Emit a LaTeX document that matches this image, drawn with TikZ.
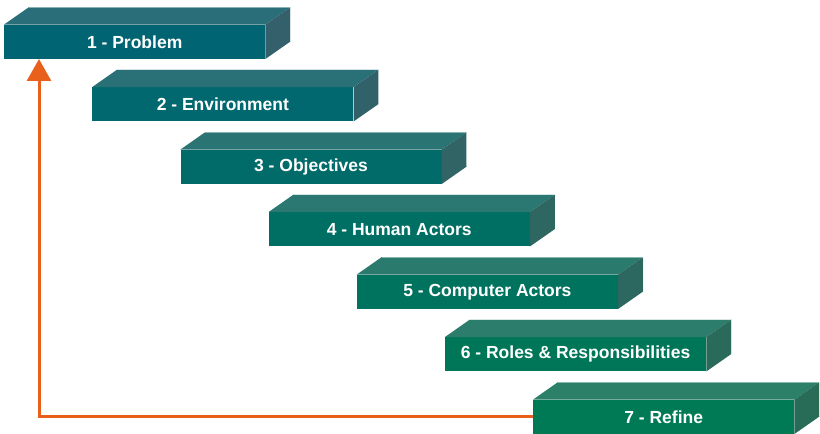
\documentclass[tikz,border=0pt]{standalone}
\usepackage{fontspec}
\setmainfont{Liberation Sans}
\usetikzlibrary{arrows.meta}
\usetikzlibrary{positioning}
\usetikzlibrary{calc}

% Face colours of the first and the last step
\definecolor{frontA}{RGB}{0,100,115}
\definecolor{topA}{RGB}{42,110,122}
\definecolor{sideA}{RGB}{52,96,108}
\definecolor{frontB}{RGB}{0,122,84}
\definecolor{topB}{RGB}{44,128,104}
\definecolor{sideB}{RGB}{40,108,88}
\definecolor{loopback}{RGB}{232,96,28}

\begin{document}
\begin{tikzpicture}[x=1pt, y=1pt,
    stepface/.style={rectangle, anchor=south west, inner sep=0pt,
      minimum width=261pt, minimum height=34pt, text=white,
      font=\bfseries\fontsize{17.5}{20}\selectfont},
    feedback/.style={draw=loopback, line width=3pt,
      -{Triangle[length=22pt, width=24pt]}}]

        \useasboundingbox (0,0) rectangle (820,434);

        % Horizontal and vertical distance between steps
        \def\hstep{88.17}
        \def\vstep{62.5}

        % Depth of the boxes
        \def\dx{25}
        \def\dy{17.5}

        % Draw the staircase, top step first
        \foreach \label [count=\n] in {Problem, Environment, Objectives,
            Human Actors, Computer Actors, Roles \& Responsibilities, Refine} {
          \pgfmathtruncatemacro{\mix}{round(100*(\n-1)/6)}
          \colorlet{fc}{frontB!\mix!frontA}
          \colorlet{tc}{topB!\mix!topA}
          \colorlet{sc}{sideB!\mix!sideA}

          % Front face carries the text
          \node[stepface, fill=fc] (f\n) at ({4 + (\n-1)*\hstep}, {375 - (\n-1)*\vstep}) {\n\ - \label};

          % Top and right faces
          \fill[tc] (f\n.north west) -- ++(\dx,\dy) -- ([shift={(\dx,\dy)}]f\n.north east) -- (f\n.north east) -- cycle;
          \fill[sc] (f\n.north east) -- ++(\dx,\dy) -- ([shift={(\dx,\dy)}]f\n.south east) -- (f\n.south east) -- cycle;
          \draw[white, opacity=0.45, line width=0.6pt] ([shift={(\dx,\dy)}]f\n.north west) -- ([shift={(\dx,\dy)}]f\n.north east) -- ([shift={(\dx,\dy)}]f\n.south east);
        }

        % Loop back from the last step to the first
        \draw[feedback] (f7.west) -| ([xshift=35pt]f1.south west);

      \end{tikzpicture}
\end{document}
